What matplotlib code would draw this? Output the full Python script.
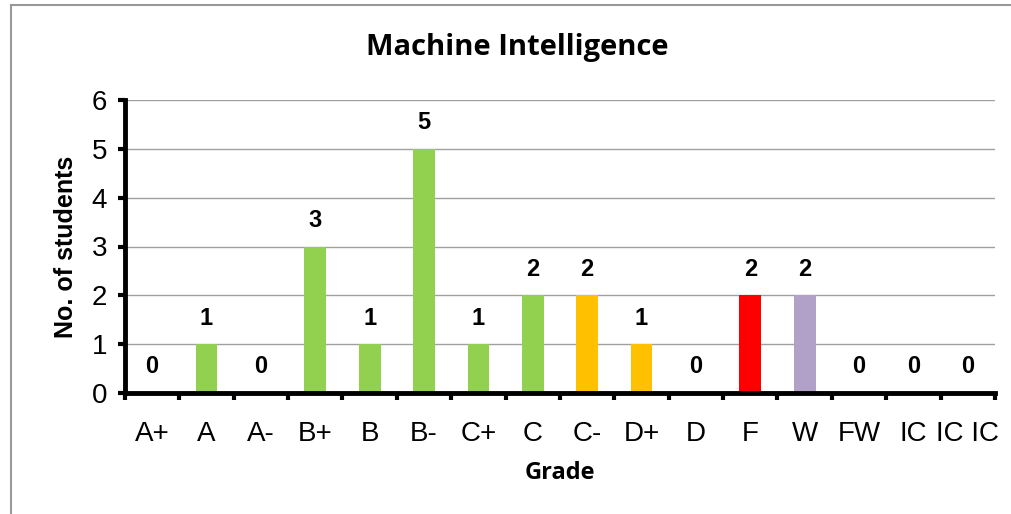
import matplotlib

matplotlib.use("Agg")
import matplotlib.pyplot as plt
from matplotlib.lines import Line2D

grades = ["A+", "A", "A-", "B+", "B", "B-", "C+", "C", "C-", "D+", "D", "F", "W", "FW", "IC", "IC IC"]
students = [0, 1, 0, 3, 1, 5, 1, 2, 2, 1, 0, 2, 2, 0, 0, 0]
colors = ["#92D050"] * 8 + ["#FFC000", "#FFC000", "#FFC000", "#FF0000", "#B1A0C7", "#92D050", "#92D050", "#92D050"]


def main():
    plt.rcParams["font.family"] = ["Liberation Sans", "DejaVu Sans"]
    fig = plt.figure(figsize=(10.12, 5.14), dpi=100)
    ax = fig.add_axes([125 / 1012, 121 / 514, 870 / 1012, 293 / 514])

    x = list(range(len(students)))
    ax.bar(x, students, width=0.4, color=colors, zorder=2)
    for i, v in enumerate(students):
        ax.text(i, v + 0.3, str(v), ha="center", va="bottom", fontsize=17, fontweight="bold")

    ax.set_xlim(-0.5, len(students) - 0.5)
    ax.set_ylim(0, 6)
    ax.set_yticks(range(7))
    ax.yaxis.grid(True, color="#A0A0A0", linewidth=1, zorder=0)
    ax.tick_params(axis="y", labelsize=20, width=3, length=5, pad=8)

    ax.set_xticks([i - 0.5 for i in range(len(students) + 1)])
    ax.set_xticklabels([])
    ax.tick_params(axis="x", which="major", width=3, length=5, direction="out")
    ax.set_xticks(x, minor=True)
    ax.set_xticklabels(grades, minor=True)
    ax.tick_params(axis="x", which="minor", length=0, labelsize=20, pad=20)

    for side in ("top", "right"):
        ax.spines[side].set_visible(False)
    for side in ("left", "bottom"):
        ax.spines[side].set_linewidth(3.5)
        ax.spines[side].set_zorder(3)

    ax.set_ylabel("No. of students", fontsize=18, fontweight="bold", labelpad=10)
    ax.set_xlabel("Grade", fontsize=17, fontweight="bold", family=["Open Sans", "DejaVu Sans"], labelpad=10)
    fig.text(517 / 1012, 1 - 47 / 514, "Machine Intelligence", ha="center", va="center",
             fontsize=21, fontweight="bold", family=["Open Sans", "DejaVu Sans"])

    # outer chart border (top and left edges visible)
    fig.add_artist(Line2D([11 / 1012, 11 / 1012], [0, 1 - 5 / 514], transform=fig.transFigure, color="#999999", linewidth=1.5))
    fig.add_artist(Line2D([11 / 1012, 1], [1 - 5 / 514, 1 - 5 / 514], transform=fig.transFigure, color="#999999", linewidth=1.5))

    fig.savefig("out.png", dpi=100, facecolor="white")


if __name__ == "__main__":
    main()
